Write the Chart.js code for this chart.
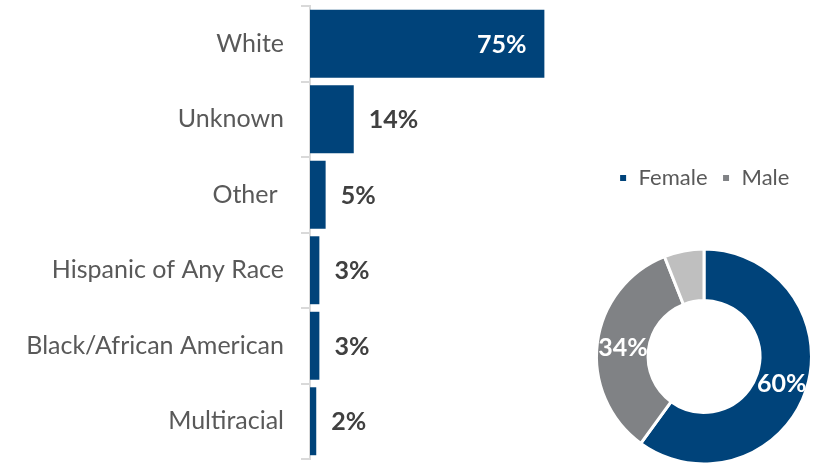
<!DOCTYPE html>
<html>
<head>
<meta charset="utf-8">
<script src="https://cdn.jsdelivr.net/npm/chart.js@4.4.0/dist/chart.umd.min.js"></script>
<style>
    body { margin: 0; background: #fff; }
    #bar-box { position: absolute; left: 0; top: 0; width: 560px; height: 469px; }
    #pie-box { position: absolute; left: 590px; top: 150px; width: 224px; height: 319px; }
</style>
</head>
<body>
<div id="bar-box"><canvas id="race-chart"></canvas></div>
<div id="pie-box"><canvas id="gender-chart"></canvas></div>
<script>
// Race breakdown
const raceLabels = ['White', 'Unknown', 'Other ', 'Hispanic of Any Race', 'Black/African American', 'Multiracial'];
const raceValues = [75, 14, 5, 3, 3, 2];

// Gender breakdown (third slice is not in the legend)
const genderLabels = ['Female', 'Male', 'Not reported'];
const genderValues = [60, 34, 6];

const BLUE = '#00437A';
const FONT = 'Lato, "Open Sans", sans-serif';

// Percent labels on the bars
const barLabels = {
    id: 'barLabels',
    afterDatasetsDraw(chart) {
        const ctx = chart.ctx;
        const meta = chart.getDatasetMeta(0);
        ctx.save();
        ctx.font = 'bold 25px ' + FONT;
        ctx.textBaseline = 'middle';
        meta.data.forEach(function(bar, i) {
            const inside = i === 0;
            ctx.fillStyle = inside ? '#ffffff' : '#404040';
            ctx.textAlign = inside ? 'right' : 'left';
            ctx.fillText(raceValues[i] + '%', inside ? bar.x - 18 : bar.x + 15, bar.y + 1);
        });
        ctx.restore();
    }
};

new Chart(document.getElementById('race-chart'), {
    type: 'bar',
    data: {
        labels: raceLabels,
        datasets: [{
            data: raceValues,
            backgroundColor: BLUE,
            barPercentage: 0.9,
            categoryPercentage: 1
        }]
    },
    options: {
        indexAxis: 'y',
        responsive: true,
        maintainAspectRatio: false,
        animation: false,
        layout: { padding: { top: 6, bottom: 10, left: 0, right: 0 } },
        plugins: { legend: { display: false }, tooltip: { enabled: false } },
        scales: {
            x: { display: false, min: 0, max: 80 },
            y: {
                afterFit: function(scale) {
                    scale.width = 310;
                    scale.paddingTop = 0;
                    scale.paddingBottom = 0;
                },
                border: { color: '#d9d9d9', width: 2 },
                grid: { drawOnChartArea: false, drawTicks: true, tickLength: 9, color: '#d9d9d9', lineWidth: 2 },
                ticks: { color: '#595959', padding: 17, font: { family: FONT, size: 25 } }
            }
        }
    },
    plugins: [barLabels]
});

// Percent labels on the doughnut slices
const arcLabels = {
    id: 'arcLabels',
    afterDatasetsDraw(chart) {
        const ctx = chart.ctx;
        const meta = chart.getDatasetMeta(0);
        ctx.save();
        ctx.font = 'bold 25px ' + FONT;
        ctx.fillStyle = '#ffffff';
        ctx.textAlign = 'center';
        ctx.textBaseline = 'middle';
        meta.data.forEach(function(arc, i) {
            if (i > 1) return;
            const p = arc.tooltipPosition();
            ctx.fillText(genderValues[i] + '%', p.x, p.y + 2);
        });
        ctx.restore();
    }
};

// make room between legend and ring
const legendGap = {
    id: 'legendGap',
    beforeInit(chart) {
        const fit = chart.legend.fit;
        chart.legend.fit = function() {
            fit.bind(chart.legend)();
            this.height = 93;
        };
    }
};

new Chart(document.getElementById('gender-chart'), {
    type: 'doughnut',
    data: {
        labels: genderLabels,
        datasets: [{
            data: genderValues,
            backgroundColor: [BLUE, '#808285', '#BFBFBF'],
            borderColor: '#ffffff',
            borderWidth: 3
        }]
    },
    options: {
        responsive: true,
        maintainAspectRatio: false,
        animation: false,
        cutout: '52%',
        layout: { padding: { top: 3, bottom: 2, left: 5, right: 1 } },
        plugins: {
            tooltip: { enabled: false },
            legend: {
                position: 'top',
                labels: {
                    boxWidth: 9,
                    boxHeight: 9,
                    color: '#595959',
                    padding: 14,
                    font: { family: FONT, size: 22 },
                    filter: function(item) { return item.index < 2; }
                }
            }
        }
    },
    plugins: [arcLabels, legendGap]
});
</script>
</body>
</html>
